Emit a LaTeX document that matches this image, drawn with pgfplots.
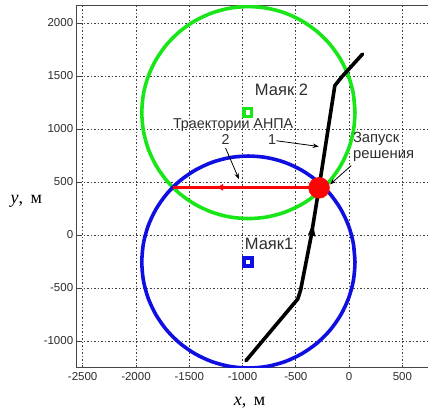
\documentclass[border=0pt]{standalone}
\usepackage{fontspec}
\setmainfont{Liberation Sans}
\newfontfamily\serifcyr{Liberation Serif}
\usepackage{pgfplots}
\pgfplotsset{compat=1.18}
\usetikzlibrary{arrows.meta}

\definecolor{cgreen}{RGB}{25,230,25}
\definecolor{cblue}{RGB}{15,15,225}
\definecolor{cred}{RGB}{250,5,5}
\definecolor{ctext}{RGB}{45,45,45}

\begin{document}
\begin{tikzpicture}
\useasboundingbox (0,0) rectangle (428pt,413pt);
\begin{axis}[
  at={(76.7pt,45.3pt)}, anchor=south west,
  scale only axis, width=353.3pt, height=362.4pt,
  xmin=-2556, xmax=759, ymin=-1252, ymax=2167,
  xtick={-2500,-2000,-1500,-1000,-500,0,500},
  ytick={-1000,-500,0,500,1000,1500,2000},
  grid=major,
  major grid style={black!75, line width=0.85pt, dash pattern=on 1.7pt off 1.8pt},
  axis line style={gray!55!black, line width=1pt},
  tick align=inside, major tick length=3pt,
  tick style={gray!55!black, line width=0.7pt},
  xtick pos=left, ytick pos=left,
  ticklabel style={font=\fontsize{11.5}{12}\selectfont, text=ctext},
  /pgf/number format/assume math mode=true,
  /pgf/number format/set thousands separator={},
  xticklabel style={yshift=-1pt},
  every axis x label/.style={at={(rel axis cs:0.489,0)}, anchor=base, yshift=-37.3pt},
  every axis y label/.style={at={(rel axis cs:0,0)}, anchor=base west, xshift=-69.7pt, yshift=164.7pt},
  xlabel={\serifcyr\fontsize{18}{20}\selectfont\textit{x},\, м},
  ylabel={\serifcyr\fontsize{18}{20}\selectfont\textit{y},\, м},
  clip=true,
]
% Green circle (Beacon 2 range)
\addplot[cgreen, line width=3.6pt, smooth] coordinates {
(55,1155) (40,1329) (-5,1497) (-79,1655) (-179,1798) (-302,1921) (-445,2021) (-603,2095) (-771,2140)
(-945,2155) (-1119,2140) (-1287,2095) (-1445,2021) (-1588,1921) (-1711,1798) (-1811,1655) (-1885,1497) (-1930,1329)
(-1945,1155) (-1930,981) (-1885,813) (-1811,655) (-1711,512) (-1588,389) (-1445,289) (-1287,215) (-1119,170)
(-945,155) (-771,170) (-603,215) (-445,289) (-302,389) (-179,512) (-79,655) (-5,813) (40,981) (55,1155)
(40,1329)};
% Blue circle (Beacon 1 range)
\addplot[cblue, line width=3.6pt, smooth] coordinates {
(55,-255) (40,-81) (-5,87) (-79,245) (-179,388) (-302,511) (-445,611) (-603,685) (-771,730)
(-945,745) (-1119,730) (-1287,685) (-1445,611) (-1588,511) (-1711,388) (-1811,245) (-1885,87) (-1930,-81)
(-1945,-255) (-1930,-429) (-1885,-597) (-1811,-755) (-1711,-898) (-1588,-1021) (-1445,-1121) (-1287,-1195) (-1119,-1240)
(-945,-1255) (-771,-1240) (-603,-1195) (-445,-1121) (-302,-1021) (-179,-898) (-79,-755) (-5,-597) (40,-429) (55,-255)
(40,-81)};
% Beacons
\addplot[only marks, mark=square*, mark size=3.9pt, cgreen, mark options={line width=3.4pt, fill=white}] coordinates {(-950,1157)};
\addplot[only marks, mark=square*, mark size=3.9pt, cblue, mark options={line width=3.8pt, fill=white}] coordinates {(-950,-255)};
% Trajectory 2 (red)
\addplot[cred, line width=2.6pt] coordinates {(-282,450) (-1654,450)};
\addplot[only marks, mark=triangle*, mark size=3.5pt, cred, mark options={rotate=90}] coordinates {(-1200,450)};
% Trajectory 1 (black)
\addplot[black, line width=3.6pt, line join=round, line cap=round] coordinates {
(-968,-1186) (-482,-604) (-455,-520) (-354,0) (-282,449) (-134,1409) (-70,1490) (126,1707)};
\addplot[only marks, mark=triangle*, mark size=5pt, black, mark options={xscale=0.8, yscale=1.4, rotate=-9}] coordinates {(-347,30)};
% Decision start point
\addplot[only marks, mark=*, mark size=10.5pt, cred] coordinates {(-282,445)};

% Annotations
\begin{scope}[every node/.style={text=ctext, inner sep=0pt}]
\node[anchor=base west, font=\fontsize{16.5}{18}\selectfont] at (axis cs:-885,1320) {Маяк 2};
\node[anchor=base west, font=\fontsize{16.5}{18}\selectfont] at (axis cs:-980,-141) {Маяк1};
\node[anchor=base west, font=\fontsize{14.3}{16}\selectfont] at (axis cs:-1654,1000) {Траектории АНПА};
\node[anchor=base west, font=\fontsize{14.3}{16}\selectfont] at (axis cs:-1199,858) {2};
\node[anchor=base west, font=\fontsize{14.3}{16}\selectfont] at (axis cs:-761,858) {1};
\node[anchor=base west, font=\fontsize{14.8}{16}\selectfont] at (axis cs:35,869) {Запуск};
\node[anchor=base west, font=\fontsize{14.8}{16}\selectfont] at (axis cs:35,718) {решения};
\end{scope}
\draw[black, line width=0.8pt, -{Stealth[length=6pt,width=4.5pt]}] (axis cs:-682,889) -- (axis cs:-285,835);
\draw[black, line width=0.8pt, -{Stealth[length=6pt,width=4.5pt]}] (axis cs:-1159,820) -- (axis cs:-1034,528);
\draw[black, line width=0.8pt, -{Stealth[length=6pt,width=4.5pt]}] (axis cs:20,655) -- (axis cs:-178,478);
\end{axis}
\end{tikzpicture}
\end{document}
